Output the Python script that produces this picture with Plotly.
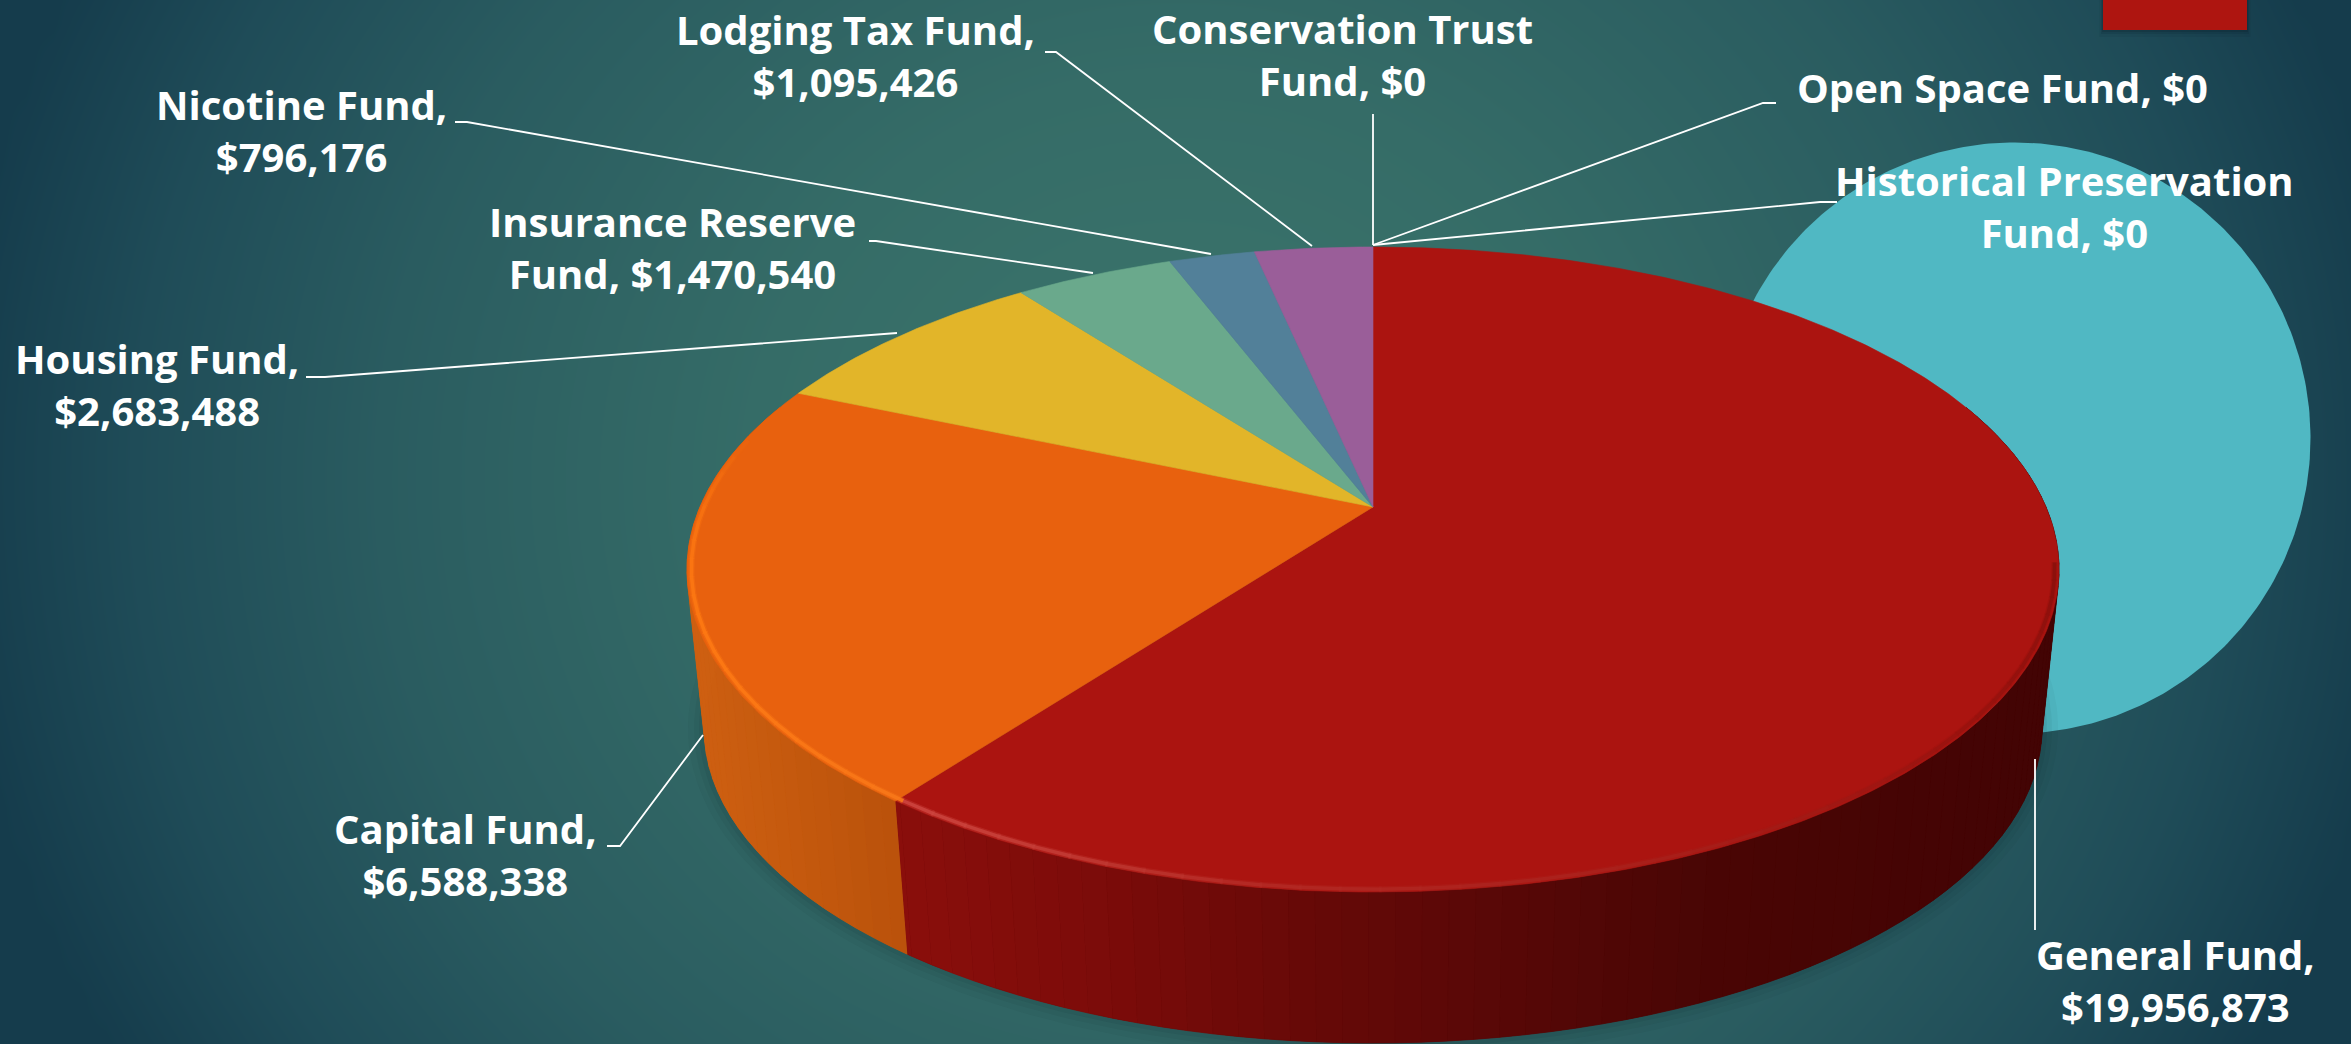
import numpy as np
import plotly.graph_objects as go

W, H = 2351, 1044

# Fund balances, clockwise from twelve o'clock
funds = ["General Fund", "Capital Fund", "Housing Fund", "Insurance Reserve Fund", "Nicotine Fund",
         "Lodging Tax Fund", "Conservation Trust Fund", "Open Space Fund", "Historical Preservation Fund"]
amounts = [19956873, 6588338, 2683488, 1470540, 796176, 1095426, 0, 0, 0]
top_colors = ["#ab1410", "#e8610e", "#e2b529", "#6aa98c", "#528099", "#9a5e99", "#4fb8c3", "#8a8a8a", "#c0c0c0"]

# Label text and placement of each callout (centre x, centre y)
label_lines = {
    "General Fund": "General Fund,<br>$19,956,873",
    "Capital Fund": "Capital Fund,<br>$6,588,338",
    "Housing Fund": "Housing Fund,<br>$2,683,488",
    "Insurance Reserve Fund": "Insurance Reserve<br>Fund, $1,470,540",
    "Nicotine Fund": "Nicotine Fund,<br>$796,176",
    "Lodging Tax Fund": "Lodging Tax Fund,<br>$1,095,426",
    "Conservation Trust Fund": "Conservation Trust<br>Fund, $0",
    "Open Space Fund": "Open Space Fund, $0",
    "Historical Preservation Fund": "Historical Preservation<br>Fund, $0",
}
label_pos = {
    "General Fund": (2175, 980), "Capital Fund": (465, 854), "Housing Fund": (157, 384),
    "Insurance Reserve Fund": (672, 247), "Nicotine Fund": (301, 130), "Lodging Tax Fund": (855, 55),
    "Conservation Trust Fund": (1342, 54), "Open Space Fund": (2002, 87),
    "Historical Preservation Fund": (2064, 206),
}
leaders = {
    "General Fund": [(2035, 930), (2035, 759)],
    "Capital Fund": [(607, 846), (620, 846), (703, 735)],
    "Housing Fund": [(306, 377), (325, 377), (897, 333)],
    "Insurance Reserve Fund": [(869, 241), (876, 241), (1093, 273)],
    "Nicotine Fund": [(455, 122), (467, 122), (1211, 254)],
    "Lodging Tax Fund": [(1045, 52), (1056, 52), (1312, 246)],
    "Conservation Trust Fund": [(1373, 114), (1373, 245)],
    "Open Space Fund": [(1776, 103), (1763, 103), (1373, 245)],
    "Historical Preservation Fund": [(1837, 202), (1820, 202), (1373, 245)],
}

# Camera model for the tilted disc
CX, APEX_Y = 1373.0, 507.0
K, A, B = 0.1938, 673.0, 310.4
DROP_Y, DROP_S, RIM_MID_Y = 729.0, 0.975, 570.0


def lens(theta):
    # Front-facing arc is slightly compressed by the wide camera angle
    theta = np.asarray(theta, dtype=float)
    bump = np.where((theta > 147) & (theta < 293), np.sin(np.pi * (theta - 147) / 146) ** 2, 0.0)
    return theta - 3.6 * bump


def disc(theta, r=1.0):
    t = np.radians(lens(theta))
    X, Y = r * np.sin(t), r * np.cos(t)
    w = 1 + K * Y
    return CX + A * X / w, APEX_Y - B * Y / w


def lower(x, y):
    return CX + DROP_S * (x - CX), DROP_Y + DROP_S * (y - RIM_MID_Y)


def mix(stops, v):
    xs = [s[0] for s in stops]
    rgb = [np.interp(v, xs, [int(s[1][i:i + 2], 16) for s in stops]) for i in (1, 3, 5)]
    return "rgb(%d,%d,%d)" % tuple(rgb)


def poly(xs, ys, color, lw=0.8):
    return go.Scatter(x=xs, y=ys, mode="lines", fill="toself", fillcolor=color,
                      line=dict(color=color, width=lw), hoverinfo="skip", showlegend=False)


fig = go.Figure()

# Slide backdrop: soft teal glow falling off to the corners
gx = np.linspace(0, W, 90)
gy = np.linspace(0, H, 45)
mx, my = np.meshgrid(gx, gy)
glow = np.sqrt(((mx - 1180) / 1230) ** 2 + ((my - 480) / 1150) ** 2)
fig.add_trace(go.Heatmap(
    x=gx, y=gy, z=np.clip(glow, 0, 1), zmin=0, zmax=1, zsmooth="best", showscale=False, hoverinfo="skip",
    colorscale=[[0, "#3c766c"], [0.35, "#356c67"], [0.65, "#2a5c60"], [0.85, "#1f4c58"], [1, "#153c4c"]]))

# Decorative circle behind the pie
a = np.radians(np.linspace(0, 360, 361))
fig.add_trace(poly(2015 + 295.5 * np.cos(a), 438 + 295.5 * np.sin(a), "#50b8c3", 0))

# Corner tab with its drop shadow
for off, alpha in ((7, 0.08), (4, 0.14), (2, 0.2)):
    fig.add_trace(poly([2103 - off / 2, 2247 + off / 2, 2247 + off / 2, 2103 - off / 2],
                       [0, 0, 30 + off, 30 + off], "rgba(10,30,40,%.2f)" % alpha, 0))
fig.add_trace(poly([2103, 2247, 2247, 2103], [0, 0, 30, 30], "#ae1510", 0))

total = sum(amounts)
edges = np.concatenate([[0], np.cumsum(amounts)]) / total * 360

# Soft contact shadow around the drum
for grow, alpha in ((16, 0.035), (10, 0.045), (5, 0.06)):
    th = np.linspace(60, 300, 200)
    x, y = lower(*disc(th))
    nx = CX + (x - CX) * (1 + grow / 660)
    ny = DROP_Y + (y - DROP_Y) * (1 + grow / 310)
    fig.add_trace(poly(nx, ny, "rgba(8,25,30,%.3f)" % alpha, 0))

red_wall = [(880, "#8c0f0c"), (1100, "#7c0c0a"), (1300, "#680a08"), (1500, "#590807"), (1700, "#4a0605"), (2060, "#430404")]
orange_wall = [(680, "#cf6012"), (800, "#c4590e"), (920, "#b8500b")]
split = edges[1]

# Flat base coat under the wall strips so their joins never show the backdrop
for t_from, t_to, stops in ((70.0, split, red_wall), (split, 290.0, orange_wall)):
    th = np.linspace(t_from, t_to, 120)
    x_t, y_t = disc(th)
    x_b, y_b = lower(x_t, y_t)
    base = mix(stops, float(np.mean(x_t)))
    fig.add_trace(poly(np.r_[x_t, x_b[::-1]], np.r_[y_t, y_b[::-1]], base, 0))

# Drum wall, cut into narrow strips so the shading runs around it
th_edges = np.unique(np.r_[np.arange(70, 291, 2.0), split])
for t0, t1 in zip(th_edges[:-1], th_edges[1:]):
    x_t, y_t = disc(np.array([t0, t1]))
    x_b, y_b = lower(x_t, y_t)
    stops = red_wall if t1 <= split else orange_wall
    shade = mix(stops, float(np.mean(x_t)))
    fig.add_trace(poly([x_t[0], x_t[1], x_b[1], x_b[0]], [y_t[0], y_t[1], y_b[1], y_b[0]], shade, 0.8))

# Top face: one wedge per fund, drawn through the camera model
for name, start, stop, color in zip(funds, edges[:-1], edges[1:], top_colors):
    if stop <= start:
        continue
    th = np.linspace(start, stop, max(int(stop - start) * 2, 6))
    x, y = disc(th)
    fig.add_trace(poly(np.r_[CX, x, CX], np.r_[APEX_Y, y, APEX_Y], color, 0.6))

# Bevel along the front rim: a wide faint pass under a narrower bright one
rim_red = [(100, "#8a100c"), (130, "#9a130f"), (160, "#a9201b"), (190, "#b42a25"), (205, "#c23a34"), (220, "#cf4640")]
rim_org = [(217, "#f9781a"), (250, "#ff7a14"), (268, "#fa7412"), (285, "#e8610e")]
rim_steps = np.arange(100, 285, 3.0)
for width, opacity in ((6, 0.35), (3.5, 0.9)):
    for t0, t1 in zip(rim_steps[:-1], rim_steps[1:]):
        tm = (t0 + t1) / 2
        c = mix(rim_red, tm) if tm < split else mix(rim_org, tm)
        x, y = disc(np.array([t0, t1 + 0.2]), 0.994)
        fig.add_trace(go.Scatter(x=x, y=y, mode="lines", opacity=opacity, line=dict(color=c, width=width),
                                 hoverinfo="skip", showlegend=False))

# Leader lines from each callout to its slice
for name in funds:
    pts = leaders[name]
    fig.add_trace(go.Scatter(x=[p[0] for p in pts], y=[p[1] for p in pts], mode="lines",
                             line=dict(color="#ffffff", width=1.8), hoverinfo="skip", showlegend=False))

annotations = [
    dict(x=label_pos[n][0], y=label_pos[n][1], text="<b>%s</b>" % label_lines[n], showarrow=False,
         xref="x", yref="y", xanchor="center", yanchor="middle", align="center",
         font=dict(family="Open Sans", size=40, color="#ffffff"))
    for n in funds
]

fig.update_layout(
    width=W, height=H, margin=dict(l=0, r=0, t=0, b=0), showlegend=False,
    paper_bgcolor="#1f4c58", plot_bgcolor="#1f4c58", annotations=annotations,
    xaxis=dict(range=[0, W], visible=False, fixedrange=True),
    yaxis=dict(range=[H, 0], visible=False, fixedrange=True),
)
fig.write_html("out.html", config=dict(displayModeBar=False))
